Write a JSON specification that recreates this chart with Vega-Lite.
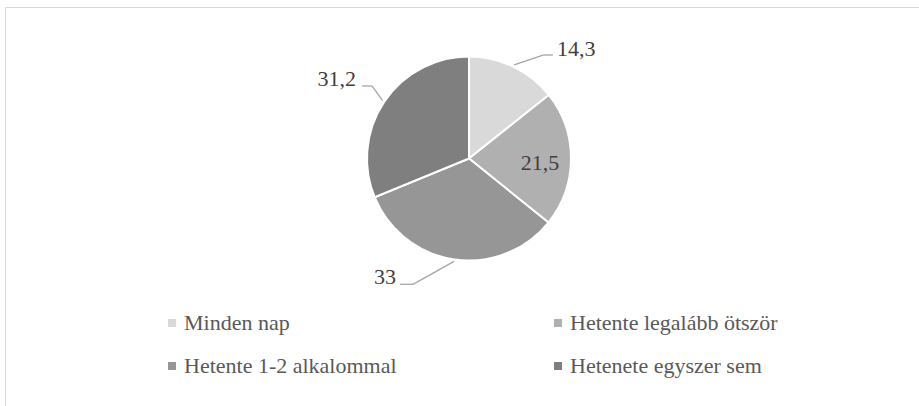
{
  "$schema": "https://vega.github.io/schema/vega-lite/v6.json",
  "width": 914,
  "height": 399,
  "autosize": "none",
  "padding": {"left": 5, "top": 7, "right": 0, "bottom": 0},
  "background": "white",
  "config": {
    "view": {"stroke": "#d9d9d9", "strokeWidth": 1},
    "font": "Liberation Serif, Times New Roman, serif"
  },
  "data": {
    "values": [
      {"cat": "Minden nap", "value": 14.3, "i": 1},
      {"cat": "Hetente legalább ötször", "value": 21.5, "i": 2},
      {"cat": "Hetente 1-2 alkalommal", "value": 33, "i": 3},
      {"cat": "Hetenete egyszer sem", "value": 31.2, "i": 4}
    ]
  },
  "transform": [
    {"joinaggregate": [{"op": "sum", "field": "value", "as": "total"}]},
    {"window": [{"op": "sum", "field": "value", "as": "cum"}], "sort": [{"field": "i"}], "frame": [null, 0]},
    {"calculate": "2*PI*(datum.cum - datum.value/2)/datum.total", "as": "mid"},
    {"calculate": "104*sin(datum.mid)", "as": "sx"},
    {"calculate": "104*cos(datum.mid)", "as": "sy"},
    {"calculate": "71*sin(datum.mid)", "as": "ix"},
    {"calculate": "71*cos(datum.mid)", "as": "iy"},
    {"calculate": "replace(''+datum.value, '.', ',')", "as": "txt"}
  ],
  "layer": [
    {
      "mark": {"type": "arc", "outerRadius": 102, "stroke": "white", "strokeWidth": 2},
      "encoding": {
        "theta": {"field": "value", "type": "quantitative", "stack": true},
        "order": {"field": "i", "type": "quantitative"},
        "color": {
          "field": "cat",
          "type": "nominal",
          "scale": {
            "domain": ["Minden nap", "Hetente legalább ötször", "Hetente 1-2 alkalommal", "Hetenete egyszer sem"],
            "range": ["#d9d9d9", "#b0b0b0", "#969696", "#7f7f7f"]
          },
          "legend": {
            "title": null,
            "orient": "none",
            "direction": "horizontal",
            "legendX": 156,
            "legendY": 305,
            "columns": 2,
            "columnPadding": 150,
            "rowPadding": 21,
            "symbolType": "square",
            "symbolSize": 64,
            "symbolStrokeWidth": 0,
            "labelFont": "Liberation Serif, Times New Roman, serif",
            "labelFontSize": 22,
            "labelColor": "#595959",
            "labelOffset": 1,
            "labelLimit": 400,
            "padding": 0
          }
        },
        "x": {"datum": 0, "type": "quantitative", "scale": {"domain": [-464, 450], "nice": false, "zero": false}, "axis": null},
        "y": {"datum": 0, "type": "quantitative", "scale": {"domain": [-247.5, 151.5], "nice": false, "zero": false}, "axis": null}
      }
    },
    {
      "transform": [{"filter": "datum.cat === 'Minden nap'"}],
      "mark": {"type": "rule", "x2Offset": 28.8, "y2Offset": -9.8, "color": "#a6a6a6", "strokeWidth": 1.3},
      "encoding": {
        "x": {"field": "sx", "type": "quantitative"},
        "y": {"field": "sy", "type": "quantitative"},
        "x2": {"field": "sx"},
        "y2": {"field": "sy"}
      }
    },
    {
      "transform": [{"filter": "datum.cat === 'Minden nap'"}],
      "mark": {"type": "rule", "xOffset": 28.8, "yOffset": -9.8, "x2Offset": 38.8, "y2Offset": -9.8, "color": "#a6a6a6", "strokeWidth": 1.3},
      "encoding": {
        "x": {"field": "sx", "type": "quantitative"},
        "y": {"field": "sy", "type": "quantitative"},
        "x2": {"field": "sx"},
        "y2": {"field": "sy"}
      }
    },
    {
      "transform": [{"filter": "datum.cat === 'Minden nap'"}],
      "mark": {"type": "text", "align": "left", "baseline": "alphabetic", "dx": 42.8, "dy": -8.8, "fontSize": 22, "font": "Liberation Serif, Times New Roman, serif", "color": "#404040"},
      "encoding": {
        "x": {"field": "sx", "type": "quantitative"},
        "y": {"field": "sy", "type": "quantitative"},
        "text": {"field": "txt"}
      }
    },
    {
      "transform": [{"filter": "datum.cat === 'Hetenete egyszer sem'"}],
      "mark": {"type": "rule", "x2Offset": -10.6, "y2Offset": -14.6, "color": "#a6a6a6", "strokeWidth": 1.3},
      "encoding": {
        "x": {"field": "sx", "type": "quantitative"},
        "y": {"field": "sy", "type": "quantitative"},
        "x2": {"field": "sx"},
        "y2": {"field": "sy"}
      }
    },
    {
      "transform": [{"filter": "datum.cat === 'Hetenete egyszer sem'"}],
      "mark": {"type": "rule", "xOffset": -10.6, "yOffset": -14.6, "x2Offset": -20.6, "y2Offset": -14.6, "color": "#a6a6a6", "strokeWidth": 1.3},
      "encoding": {
        "x": {"field": "sx", "type": "quantitative"},
        "y": {"field": "sy", "type": "quantitative"},
        "x2": {"field": "sx"},
        "y2": {"field": "sy"}
      }
    },
    {
      "transform": [{"filter": "datum.cat === 'Hetenete egyszer sem'"}],
      "mark": {"type": "text", "align": "right", "baseline": "alphabetic", "dx": -26.6, "dy": -14.6, "fontSize": 22, "font": "Liberation Serif, Times New Roman, serif", "color": "#404040"},
      "encoding": {
        "x": {"field": "sx", "type": "quantitative"},
        "y": {"field": "sy", "type": "quantitative"},
        "text": {"field": "txt"}
      }
    },
    {
      "transform": [{"filter": "datum.cat === 'Hetente 1-2 alkalommal'"}],
      "mark": {"type": "rule", "x2Offset": -41, "y2Offset": 22.9, "color": "#a6a6a6", "strokeWidth": 1.3},
      "encoding": {
        "x": {"field": "sx", "type": "quantitative"},
        "y": {"field": "sy", "type": "quantitative"},
        "x2": {"field": "sx"},
        "y2": {"field": "sy"}
      }
    },
    {
      "transform": [{"filter": "datum.cat === 'Hetente 1-2 alkalommal'"}],
      "mark": {"type": "rule", "xOffset": -41, "yOffset": 22.9, "x2Offset": -54, "y2Offset": 22.9, "color": "#a6a6a6", "strokeWidth": 1.3},
      "encoding": {
        "x": {"field": "sx", "type": "quantitative"},
        "y": {"field": "sy", "type": "quantitative"},
        "x2": {"field": "sx"},
        "y2": {"field": "sy"}
      }
    },
    {
      "transform": [{"filter": "datum.cat === 'Hetente 1-2 alkalommal'"}],
      "mark": {"type": "text", "align": "right", "baseline": "alphabetic", "dx": -58, "dy": 22.9, "fontSize": 22, "font": "Liberation Serif, Times New Roman, serif", "color": "#404040"},
      "encoding": {
        "x": {"field": "sx", "type": "quantitative"},
        "y": {"field": "sy", "type": "quantitative"},
        "text": {"field": "txt"}
      }
    },
    {
      "transform": [{"filter": "datum.cat === 'Hetente legalább ötször'"}],
      "mark": {"type": "text", "align": "center", "baseline": "alphabetic", "dy": 11.3, "fontSize": 22, "font": "Liberation Serif, Times New Roman, serif", "color": "#404040"},
      "encoding": {
        "x": {"field": "ix", "type": "quantitative"},
        "y": {"field": "iy", "type": "quantitative"},
        "text": {"field": "txt"}
      }
    }
  ]
}
